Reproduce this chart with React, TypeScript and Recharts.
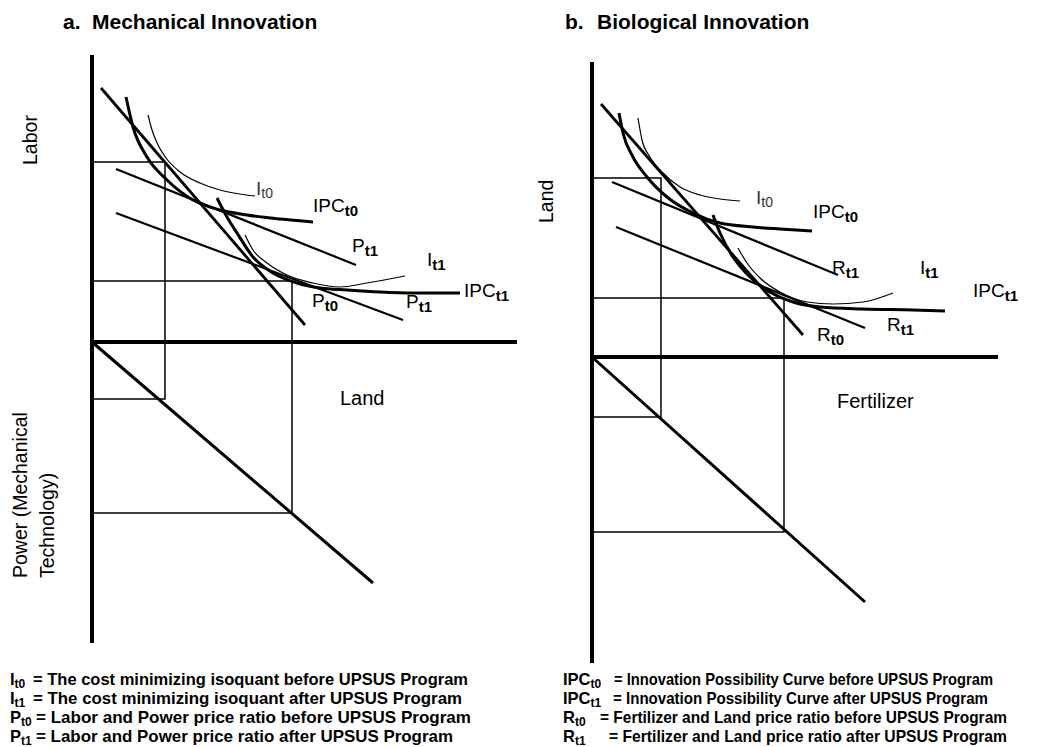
import React from 'react';
import { ComposedChart, Line, Scatter, XAxis, YAxis } from 'recharts';

const FONT = '"Liberation Sans", Arial, Helvetica, sans-serif';

type Pt = { x: number; y: number };

// ---------- Panel a: Mechanical Innovation (origin at the axes corner, y up) ----------
const aLaborAxis: Pt[] = [{ x: 0, y: 287 }, { x: 0, y: -301 }];
const aLandAxis: Pt[] = [{ x: 0, y: 0 }, { x: 425, y: 0 }];
const aPowerRay: Pt[] = [{ x: 0, y: 0 }, { x: 281, y: -241 }];
const aSmallBox: Pt[] = [{ x: 0, y: 180 }, { x: 73, y: 180 }, { x: 73, y: -57 }, { x: 0, y: -57 }];
const aLargeBox: Pt[] = [{ x: 0, y: 61 }, { x: 200, y: 61 }, { x: 200, y: -171 }, { x: 0, y: -171 }];
const aPt0: Pt[] = [{ x: 9, y: 254 }, { x: 213, y: 17 }];
const aPt1Upper: Pt[] = [{ x: 24, y: 173 }, { x: 264, y: 77 }];
const aPt1Lower: Pt[] = [{ x: 24, y: 129 }, { x: 311, y: 22 }];
const aIt0: Pt[] = [
  { x: 56, y: 227 }, { x: 60, y: 212 }, { x: 66, y: 197 }, { x: 74, y: 184 }, { x: 88, y: 170 },
  { x: 108, y: 159 }, { x: 128, y: 152 }, { x: 148, y: 148 }, { x: 163, y: 146 },
];
const aIPCt0: Pt[] = [
  { x: 34, y: 245 }, { x: 41, y: 215 }, { x: 55, y: 185 }, { x: 75, y: 162 }, { x: 101, y: 142 },
  { x: 128, y: 132 }, { x: 155, y: 127 }, { x: 188, y: 123 }, { x: 221, y: 120 },
];
const aIPCt1: Pt[] = [
  { x: 125, y: 144 }, { x: 135, y: 125 }, { x: 145, y: 109 }, { x: 161, y: 85 }, { x: 181, y: 69 },
  { x: 205, y: 59 }, { x: 228, y: 54 }, { x: 255, y: 52 }, { x: 288, y: 50 }, { x: 321, y: 49 }, { x: 368, y: 49 },
];
const aIt1: Pt[] = [
  { x: 153, y: 107 }, { x: 161, y: 92 }, { x: 175, y: 79 }, { x: 195, y: 67 }, { x: 221, y: 59 },
  { x: 248, y: 55 }, { x: 275, y: 59 }, { x: 313, y: 66 },
];
const aThinLabels = [{ x: 164, y: 147, main: 'I', sub: 't0' }];
const aCurveLabels = [
  { x: 221, y: 130, main: 'IPC', sub: 't0' },
  { x: 260, y: 90, main: 'P', sub: 't1' },
  { x: 335, y: 76, main: 'I', sub: 't1' },
  { x: 372, y: 45, main: 'IPC', sub: 't1' },
  { x: 220, y: 35, main: 'P', sub: 't0' },
  { x: 314, y: 34, main: 'P', sub: 't1' },
];
const aRotatedLabels = [
  { x: -55, y: 177, text: 'Labor' },
  { x: -65, y: -236, text: 'Power (Mechanical' },
  { x: -38, y: -236, text: 'Technology)' },
];
const aAxisLabels = [{ x: 248, y: -63, text: 'Land' }];
const aTitles = [
  { x: -29, y: 313, text: 'a.' },
  { x: 0, y: 313, text: 'Mechanical Innovation' },
];

// ---------- Panel b: Biological Innovation ----------
const bLandAxis: Pt[] = [{ x: 0, y: 295 }, { x: 0, y: -306 }];
const bFertAxis: Pt[] = [{ x: 0, y: 0 }, { x: 406, y: 0 }];
const bRay: Pt[] = [{ x: 0, y: 0 }, { x: 273, y: -245 }];
const bSmallBox: Pt[] = [{ x: 0, y: 179 }, { x: 69, y: 179 }, { x: 69, y: -60 }, { x: 0, y: -60 }];
const bLargeBox: Pt[] = [{ x: 0, y: 59 }, { x: 192, y: 59 }, { x: 192, y: -175 }, { x: 0, y: -175 }];
const bRt0: Pt[] = [{ x: 9, y: 253 }, { x: 211, y: 22 }];
const bRt1Upper: Pt[] = [{ x: 20, y: 175 }, { x: 246, y: 82 }];
const bRt1Lower: Pt[] = [{ x: 24, y: 130 }, { x: 273, y: 29 }];
const bIt0: Pt[] = [
  { x: 46, y: 239 }, { x: 50, y: 217 }, { x: 58, y: 200 }, { x: 71, y: 184 }, { x: 88, y: 170 },
  { x: 108, y: 162 }, { x: 128, y: 158 }, { x: 148, y: 156 },
];
const bIPCt0: Pt[] = [
  { x: 27, y: 244 }, { x: 31, y: 224 }, { x: 41, y: 200 }, { x: 55, y: 180 }, { x: 75, y: 160 },
  { x: 101, y: 144 }, { x: 128, y: 134 }, { x: 161, y: 130 }, { x: 188, y: 128 }, { x: 220, y: 126 },
];
const bIPCt1: Pt[] = [
  { x: 121, y: 142 }, { x: 128, y: 124 }, { x: 141, y: 100 }, { x: 158, y: 80 }, { x: 178, y: 65 },
  { x: 201, y: 55 }, { x: 228, y: 50 }, { x: 271, y: 48 }, { x: 321, y: 47 }, { x: 353, y: 46 },
];
const bIt1: Pt[] = [
  { x: 146, y: 109 }, { x: 155, y: 94 }, { x: 168, y: 79 }, { x: 188, y: 65 }, { x: 215, y: 55 },
  { x: 241, y: 53 }, { x: 271, y: 55 }, { x: 301, y: 64 },
];
const bThinLabels = [{ x: 164, y: 153, main: 'I', sub: 't0' }];
const bCurveLabels = [
  { x: 221, y: 139, main: 'IPC', sub: 't0' },
  { x: 240, y: 83, main: 'R', sub: 't1' },
  { x: 328, y: 83, main: 'I', sub: 't1' },
  { x: 381, y: 60, main: 'IPC', sub: 't1' },
  { x: 295, y: 26, main: 'R', sub: 't1' },
  { x: 225, y: 16, main: 'R', sub: 't0' },
];
const bRotatedLabels = [{ x: -39, y: 134, text: 'Land' }];
const bAxisLabels = [{ x: 245, y: -51, text: 'Fertilizer' }];
const bTitles = [
  { x: -27, y: 328, text: 'b.' },
  { x: 5, y: 328, text: 'Biological Innovation' },
];

// ---------- Legends ----------
const leftLegend = [
  { sym: 'I', sub: 't0', text: '= The cost minimizing isoquant before UPSUS Program' },
  { sym: 'I', sub: 't1', text: '= The cost minimizing isoquant after UPSUS Program' },
  { sym: 'P', sub: 't0', text: '= Labor and Power price ratio before UPSUS Program' },
  { sym: 'P', sub: 't1', text: '= Labor and Power price ratio after UPSUS Program' },
];
const rightLegend = [
  { sym: 'IPC', sub: 't0', text: '= Innovation Possibility Curve before UPSUS Program' },
  { sym: 'IPC', sub: 't1', text: '= Innovation Possibility Curve after UPSUS Program' },
  { sym: 'R', sub: 't0', text: '= Fertilizer and Land price ratio before UPSUS Program' },
  { sym: 'R', sub: 't1', text: '= Fertilizer and Land price ratio after UPSUS Program' },
];

// layout for legends (pixels)
const LEGEND_BASELINES = [685, 704, 723, 742];
const LEFT_SYM_X = 10;
const LEFT_EQ_X = [33, 33, 36, 36];
const LEFT_END_X = [468, 462, 471, 453];
const RIGHT_SYM_X = 563;
const RIGHT_EQ_X = [614, 613, 600, 609];
const RIGHT_END_X = [993, 988, 1007, 1007];

// ---------- label shapes ----------
const CurveLabel = (p: any) => {
  const d = p.payload;
  return (
    <text x={p.cx} y={p.cy} fontFamily={FONT} fontSize={19} fill="#000">
      <tspan>{d.main}</tspan>
      <tspan fontSize={15} fontWeight="bold" dy={4}>{d.sub}</tspan>
    </text>
  );
};
const ThinLabel = (p: any) => {
  const d = p.payload;
  return (
    <text x={p.cx} y={p.cy} fontFamily={FONT} fontSize={19} fill="#333">
      <tspan>{d.main}</tspan>
      <tspan fontSize={14} dy={3}>{d.sub}</tspan>
    </text>
  );
};
const RotatedLabel = (p: any) => (
  <text x={p.cx} y={p.cy} transform={`rotate(-90 ${p.cx} ${p.cy})`} fontFamily={FONT} fontSize={19.5} fill="#000">
    {p.payload.text}
  </text>
);
const AxisLabel = (p: any) => (
  <text x={p.cx} y={p.cy} fontFamily={FONT} fontSize={20} fill="#000">
    {p.payload.text}
  </text>
);
const TitleLabel = (p: any) => (
  <text x={p.cx} y={p.cy} fontFamily={FONT} fontSize={21} fontWeight="bold" fill="#000">
    {p.payload.text}
  </text>
);

type Series = { data: Pt[]; w: number; curve?: boolean };

type PanelProps = {
  left: number;
  width: number;
  xDomain: [number, number];
  yDomain: [number, number];
  series: Series[];
  thin: any[];
  curveLabels: any[];
  rotated: any[];
  axisLabels: any[];
  titles: any[];
};

const Panel = (props: PanelProps) => (
  <div style={{ position: 'absolute', left: props.left, top: 0 }}>
    <ComposedChart width={props.width} height={747} margin={{ top: 0, right: 0, bottom: 0, left: 0 }}>
      <XAxis type="number" dataKey="x" domain={props.xDomain} allowDataOverflow hide />
      <YAxis type="number" dataKey="y" domain={props.yDomain} allowDataOverflow hide />
      {props.series.map((s, i) => (
        <Line
          key={i}
          data={s.data}
          dataKey="y"
          type={s.curve ? 'monotone' : 'linear'}
          stroke="#000"
          strokeWidth={s.w}
          dot={false}
          activeDot={false}
          legendType="none"
          isAnimationActive={false}
        />
      ))}
      <Scatter data={props.thin} shape={ThinLabel} isAnimationActive={false} />
      <Scatter data={props.curveLabels} shape={CurveLabel} isAnimationActive={false} />
      <Scatter data={props.rotated} shape={RotatedLabel} isAnimationActive={false} />
      <Scatter data={props.axisLabels} shape={AxisLabel} isAnimationActive={false} />
      <Scatter data={props.titles} shape={TitleLabel} isAnimationActive={false} />
    </ComposedChart>
  </div>
);

const LegendBlock = (props: { items: typeof leftLegend; symX: number; eqX: number[]; endX: number[] }) => (
  <>
    {props.items.map((it, i) => (
      <g key={i} fontFamily={FONT} fontWeight="bold" fill="#000">
        <text x={props.symX} y={LEGEND_BASELINES[i]} fontSize={16.5}>
          <tspan>{it.sym}</tspan>
          <tspan fontSize={12} dy={3}>{it.sub}</tspan>
        </text>
        <text
          x={props.eqX[i]}
          y={LEGEND_BASELINES[i]}
          fontSize={16.5}
          textLength={props.endX[i] - props.eqX[i]}
          lengthAdjust="spacingAndGlyphs"
        >
          {it.text}
        </text>
      </g>
    ))}
  </>
);

export default function App() {
  const aSeries: Series[] = [
    { data: aLaborAxis, w: 4 },
    { data: aLandAxis, w: 4 },
    { data: aPowerRay, w: 3 },
    { data: aSmallBox, w: 1.5 },
    { data: aLargeBox, w: 1.5 },
    { data: aPt0, w: 2.8 },
    { data: aPt1Upper, w: 2.2 },
    { data: aPt1Lower, w: 2.2 },
    { data: aIt0, w: 1.2, curve: true },
    { data: aIt1, w: 1.2, curve: true },
    { data: aIPCt0, w: 3, curve: true },
    { data: aIPCt1, w: 3, curve: true },
  ];
  const bSeries: Series[] = [
    { data: bLandAxis, w: 4 },
    { data: bFertAxis, w: 4 },
    { data: bRay, w: 3 },
    { data: bSmallBox, w: 1.5 },
    { data: bLargeBox, w: 1.5 },
    { data: bRt0, w: 2.8 },
    { data: bRt1Upper, w: 2.2 },
    { data: bRt1Lower, w: 2.2 },
    { data: bIt0, w: 1.2, curve: true },
    { data: bIt1, w: 1.2, curve: true },
    { data: bIPCt0, w: 3, curve: true },
    { data: bIPCt1, w: 3, curve: true },
  ];
  return (
    <div style={{ position: 'absolute', left: 0, top: 0, width: 1052, height: 747, background: '#fff', overflow: 'hidden' }}>
      <Panel
        left={0}
        width={530}
        xDomain={[-92, 438]}
        yDomain={[-405, 342]}
        series={aSeries}
        thin={aThinLabels}
        curveLabels={aCurveLabels}
        rotated={aRotatedLabels}
        axisLabels={aAxisLabels}
        titles={aTitles}
      />
      <Panel
        left={530}
        width={522}
        xDomain={[-62, 460]}
        yDomain={[-390, 357]}
        series={bSeries}
        thin={bThinLabels}
        curveLabels={bCurveLabels}
        rotated={bRotatedLabels}
        axisLabels={bAxisLabels}
        titles={bTitles}
      />
      <svg width={1052} height={747} style={{ position: 'absolute', left: 0, top: 0, pointerEvents: 'none' }}>
        <LegendBlock items={leftLegend} symX={LEFT_SYM_X} eqX={LEFT_EQ_X} endX={LEFT_END_X} />
        <LegendBlock items={rightLegend} symX={RIGHT_SYM_X} eqX={RIGHT_EQ_X} endX={RIGHT_END_X} />
      </svg>
    </div>
  );
}
